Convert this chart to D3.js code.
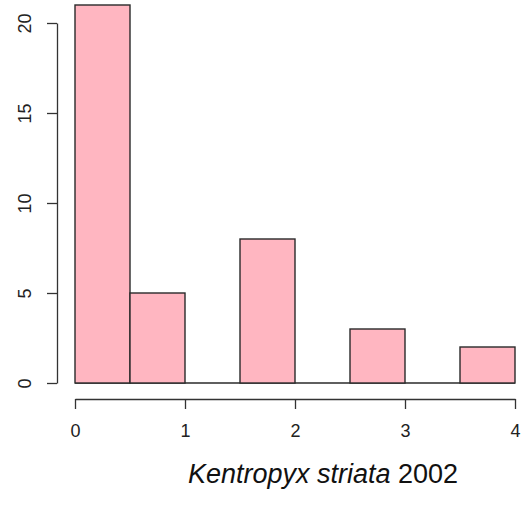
<!DOCTYPE html>
<html>
<head>
<meta charset="utf-8">
<script src="https://cdn.jsdelivr.net/npm/d3@7"></script>
<style>
  body { margin: 0; background: #fff; }
  text { font-family: "Liberation Sans", Arial, sans-serif; }
</style>
</head>
<body>
<script>
const binEdges = [0, 0.5, 1, 1.5, 2, 2.5, 3, 3.5, 4];
const counts = [21, 5, 0, 8, 0, 3, 0, 2];
const xTicks = [0, 1, 2, 3, 4];
const yTicks = [0, 5, 10, 15, 20];
const titleItalic = "Kentropyx striata";
const titleRest = " 2002";

const width = 531;
const height = 505;

const svg = d3.select("body").append("svg")
  .attr("width", width)
  .attr("height", height);

const x = d3.scaleLinear().domain([0, 4]).range([75, 515]);
const y = d3.scaleLinear().domain([0, 20]).range([383, 23]);

const bins = counts.map((c, i) => ({ x0: binEdges[i], x1: binEdges[i + 1], count: c }));

// zero-height bins still show as a line along the base
svg.append("line")
  .attr("x1", x(binEdges[0]))
  .attr("x2", x(binEdges[binEdges.length - 1]))
  .attr("y1", y(0))
  .attr("y2", y(0))
  .attr("stroke", "#2a2a2a")
  .attr("stroke-width", 1.4);

svg.append("g")
  .selectAll("rect")
  .data(bins.filter(d => d.count > 0))
  .join("rect")
  .attr("x", d => x(d.x0))
  .attr("y", d => y(d.count))
  .attr("width", d => x(d.x1) - x(d.x0))
  .attr("height", d => y(0) - y(d.count))
  .attr("fill", "#ffb6c1")
  .attr("stroke", "#2a2a2a")
  .attr("stroke-width", 1.4);

// x axis
const xAxis = svg.append("g")
  .attr("transform", "translate(0,399)")
  .call(d3.axisBottom(x).tickValues(xTicks).tickFormat(d3.format("d")).tickSize(10).tickPadding(15).tickSizeOuter(0));
xAxis.select(".domain").attr("stroke", "#333").attr("stroke-width", 1.3);
xAxis.selectAll(".tick line").attr("stroke", "#333").attr("stroke-width", 1.3);
xAxis.selectAll(".tick text").attr("font-size", 18).attr("fill", "#222").attr("font-family", "Liberation Sans, Arial, sans-serif");

// y axis
const yAxis = svg.append("g")
  .attr("transform", "translate(57,0)")
  .call(d3.axisLeft(y).tickValues(yTicks).tickSize(10).tickSizeOuter(0).tickFormat(d3.format("d")));
yAxis.select(".domain").attr("stroke", "#333").attr("stroke-width", 1.3);
yAxis.selectAll(".tick line").attr("stroke", "#333").attr("stroke-width", 1.3);
yAxis.selectAll(".tick text")
  .attr("font-size", 18)
  .attr("fill", "#222")
  .attr("font-family", "Liberation Sans, Arial, sans-serif")
  .attr("x", null)
  .attr("dy", null)
  .attr("text-anchor", "middle")
  .attr("transform", "translate(-32,0) rotate(-90)")
  .attr("dominant-baseline", "central");

// title
const title = svg.append("text")
  .attr("x", 323)
  .attr("y", 483)
  .attr("text-anchor", "middle")
  .attr("font-size", 27)
  .attr("fill", "#111");
title.append("tspan").attr("font-style", "italic").text(titleItalic);
title.append("tspan").text(titleRest);
</script>
</body>
</html>
